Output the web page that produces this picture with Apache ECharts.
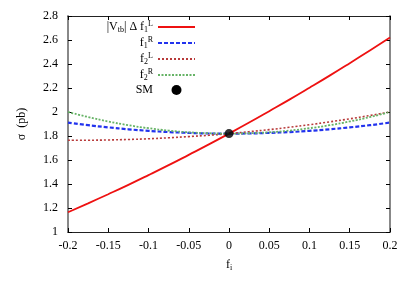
<!DOCTYPE html>
<html>
<head>
<meta charset="utf-8">
<script src="https://cdn.jsdelivr.net/npm/echarts@6/dist/echarts.min.js"></script>
<style>html,body{margin:0;padding:0;background:#fff}#c{width:415px;height:291px}</style>
</head>
<body>
<div id="c"></div>
<script>
var fValues = [-0.2,-0.175,-0.15,-0.125,-0.1,-0.075,-0.05,-0.025,0,0.025,0.05,0.075,0.1,0.125,0.15,0.175,0.2];
var vtbF1L = [1.165,1.239,1.315,1.393,1.474,1.557,1.643,1.730,1.82,1.912,2.007,2.103,2.202,2.303,2.407,2.513,2.621];
var f1R = [1.912,1.890,1.872,1.856,1.843,1.833,1.826,1.821,1.82,1.821,1.826,1.833,1.843,1.856,1.872,1.890,1.912];
var f2L = [1.765,1.765,1.767,1.771,1.777,1.785,1.795,1.806,1.82,1.836,1.853,1.873,1.894,1.918,1.943,1.971,2.0];
var f2R = [2.0,1.958,1.921,1.890,1.865,1.845,1.831,1.823,1.82,1.823,1.831,1.845,1.865,1.890,1.921,1.958,2.0];
var smPoint = [0, 1.82];
var xTicks = [-0.2,-0.15,-0.1,-0.05,0,0.05,0.1,0.15,0.2];
var yTicks = [1,1.2,1.4,1.6,1.8,2,2.2,2.4,2.6,2.8];

function pairs(ys){ return fValues.map(function(x,i){ return [x, ys[i]]; }); }
var FONT = 'Liberation Serif';
var chart = echarts.init(document.getElementById('c'));
var richStyles = {
  n: {fontFamily: FONT, fontSize: 12, color: '#000', lineHeight: 14, verticalAlign: 'middle'},
  sub: {fontFamily: FONT, fontSize: 8, color: '#000', lineHeight: 14, verticalAlign: 'bottom'},
  sup: {fontFamily: FONT, fontSize: 8, color: '#000', lineHeight: 14, verticalAlign: 'top'}
};
var names = ['vtb','f1R','f2L','f2R','SM'];
var labels = {
  vtb: '{n||V}{sub|tb}{n|| Δ f}{sub|1}{sup|L}',
  f1R: '{n|f}{sub|1}{sup|R}',
  f2L: '{n|f}{sub|2}{sup|L}',
  f2R: '{n|f}{sub|2}{sup|R}',
  SM: '{n|SM}'
};
function fmt(v){ return String(Math.round(v*1000)/1000); }
var axisTick = {show:true, inside:true, length:4, lineStyle:{color:'#000'}};
chart.setOption({
  animation: false,
  backgroundColor: '#fff',
  grid: {left: 68, right: 25, top: 16, bottom: 59},
  legend: {
    orient: 'vertical', align: 'right', right: 219, top: 20, padding: 0,
    itemWidth: 37, itemHeight: 10, itemGap: 2,
    itemStyle: {opacity: 0},
    data: names.map(function(n){ return n === 'SM' ? {name: n, itemStyle: {opacity: 1, color: '#000'}} : {name: n}; }),
    formatter: function(n){ return labels[n]; },
    textStyle: {rich: richStyles}
  },
  xAxis: [{
    type: 'value', min: -0.2, max: 0.2, interval: 0.05,
    name: '{n|f}{sub|i}', nameLocation: 'middle', nameGap: 26,
    nameTextStyle: {rich: richStyles},
    axisLine: {show:true, onZero:false, lineStyle:{color:'#222', width:1}},
    axisTick: axisTick, splitLine: {show:false},
    axisLabel: {fontFamily: FONT, fontSize: 12, color:'#000', margin: 8, formatter: fmt}
  },{
    type: 'value', position: 'top', min: -0.2, max: 0.2, interval: 0.05,
    axisLine: {show:true, onZero:false, lineStyle:{color:'#222', width:1}},
    axisTick: axisTick, axisLabel: {show:false}, splitLine:{show:false}
  }],
  yAxis: [{
    type: 'value', min: 1, max: 2.8, interval: 0.2,
    name: 'σ  (pb)', nameLocation: 'middle', nameGap: 40, nameRotate: 90,
    nameTextStyle: {fontFamily: FONT, fontSize: 12, color:'#000'},
    axisLine: {show:true, onZero:false, lineStyle:{color:'#888', width:2}},
    axisTick: axisTick, splitLine: {show:false},
    axisLabel: {fontFamily: FONT, fontSize: 12, color:'#000', margin: 10, formatter: fmt}
  },{
    type: 'value', position: 'right', min: 1, max: 2.8, interval: 0.2,
    axisLine: {show:true, onZero:false, lineStyle:{color:'#888', width:2}},
    axisTick: axisTick, axisLabel: {show:false}, splitLine:{show:false}
  }],
  series: [
    {name:'vtb', type:'line', data: pairs(vtbF1L), symbol:'none', smooth:true, color:'#ee1111',
     lineStyle:{color:'#ee1111', width:1.8, type:'solid'}},
    {name:'f1R', type:'line', data: pairs(f1R), symbol:'none', smooth:true, color:'#2233ee',
     lineStyle:{color:'#2233ee', width:2.2, type:[4,2]}},
    {name:'f2L', type:'line', data: pairs(f2L), symbol:'none', smooth:true, color:'#b83a3a',
     lineStyle:{color:'#b83a3a', width:1.6, type:[2,2]}},
    {name:'f2R', type:'line', data: pairs(f2R), symbol:'none', smooth:true, color:'#66b366',
     lineStyle:{color:'#66b366', width:1.8, type:[2,1.5]}},
    {name:'SM', type:'scatter', data: [smPoint], symbol:'circle', symbolSize: 9, color:'#000',
     itemStyle:{color:'#000'}, z: 10}
  ]
});
</script>
</body>
</html>
